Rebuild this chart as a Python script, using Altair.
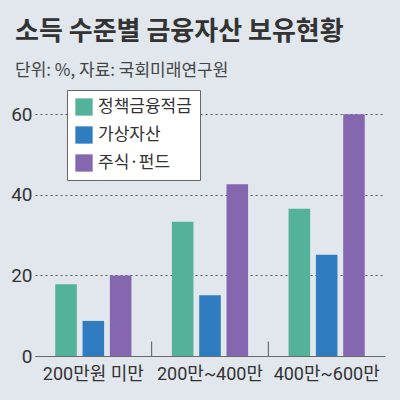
import altair as alt
import pandas as pd

groups = ["200만원 미만", "200만~400만", "400만~600만"]
series = ["정책금융적금", "가상자산", "주식·펀드"]
policy_savings = [17.8, 33.3, 36.5]
crypto = [8.7, 15.1, 25.1]
stocks_funds = [20.0, 42.6, 60.0]
colors = ["#55b29a", "#2f7cc1", "#8467ae"]
y_ticks = [0, 20, 40, 60]
separator_groups = ["200만원 미만", "200만~400만"]
separator_base = [0, 0]
separator_height = [3.6, 3.6]

rows = []
for s, vals in zip(series, [policy_savings, crypto, stocks_funds]):
    for g, v in zip(groups, vals):
        rows.append({"group": g, "series": s, "value": v})
df = pd.DataFrame(rows)
sep_df = pd.DataFrame({"group": separator_groups, "b": separator_base, "h": separator_height})

FONT_NUM = "Liberation Sans Narrow, Roboto, Noto Sans CJK KR, sans-serif"
FONT_KR = "Noto Sans CJK KR, sans-serif"

PI = 0.347
xscale = alt.Scale(domain=groups, paddingInner=PI, paddingOuter=PI / 2)
yscale = alt.Scale(domain=[0, 64], nice=False)

bars = alt.Chart(df).mark_bar().encode(
    x=alt.X("group:N", scale=xscale, sort=groups, title=None,
            axis=alt.Axis(labelAngle=0, ticks=False, domainColor="#666",
                          labelFont=FONT_NUM, labelFontSize=18, labelColor="#333",
                          labelPadding=9)),
    xOffset=alt.XOffset("series:N", sort=series,
                        scale=alt.Scale(paddingInner=0.21, paddingOuter=0)),
    y=alt.Y("value:Q", scale=yscale, title=None,
            axis=alt.Axis(values=y_ticks, domain=False, ticks=False,
                          gridDash=[2, 3], gridColor="#555", gridWidth=1,
                          labelFont=FONT_NUM, labelFontSize=19, labelColor="#333",
                          labelPadding=3)),
    color=alt.Color("series:N", sort=series,
                    scale=alt.Scale(domain=series, range=colors), title=None,
                    legend=alt.Legend(orient="none", legendX=32, legendY=-8,
                                      fillColor="white", strokeColor="#666",
                                      padding=8, symbolType="square", symbolSize=300,
                                      symbolStrokeWidth=0, labelFont=FONT_KR,
                                      labelFontSize=17, labelColor="#333",
                                      rowPadding=10, labelOffset=5)),
)

seps = alt.Chart(sep_df).mark_rule(color="#555", strokeWidth=1).encode(
    x=alt.X("group:N", sort=groups, bandPosition=1, axis=None,
            scale=alt.Scale(domain=groups, paddingInner=0, paddingOuter=0)),
    y=alt.Y("b:Q"),
    y2=alt.Y2("h:Q"),
)

chart = alt.layer(bars, seps).resolve_scale(x="independent").properties(
    width=350,
    height=258,
    background="#e1e7ed",
    padding={"left": 35, "top": 98, "right": 15, "bottom": 44},
    autosize=alt.AutoSizeParams(type="none"),
    title=alt.TitleParams(
        text="소득 수준별 금융자산 보유현황",
        subtitle="단위: %, 자료: 국회미래연구원",
        anchor="start", frame="group", dx=-20, offset=11,
        font=FONT_KR, fontSize=26, fontWeight="bold", color="#333",
        subtitleFont=FONT_KR, subtitleFontSize=17, subtitleColor="#444",
        subtitlePadding=18,
    ),
).configure_view(stroke=None)

chart.save("out.html", embed_options={"renderer": "svg", "actions": False})
